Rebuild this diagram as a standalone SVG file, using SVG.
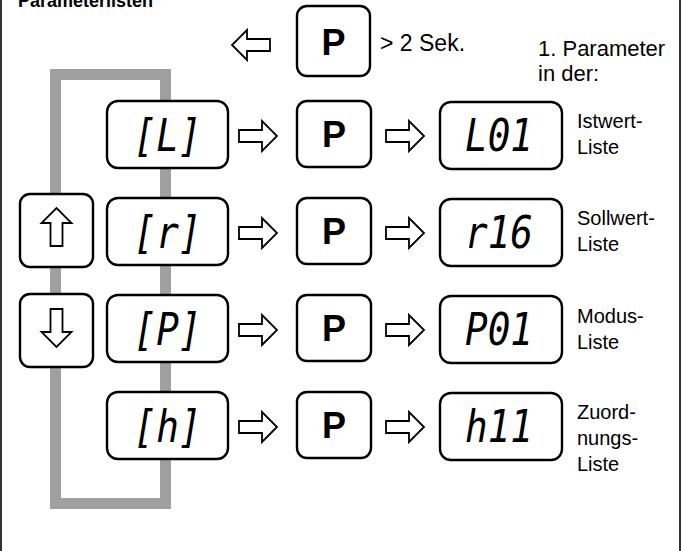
<svg xmlns="http://www.w3.org/2000/svg" width="683" height="551" viewBox="0 0 683 551">
<style>
.frame{fill:none;stroke:#000;stroke-width:1.6}
.loop{fill:none;stroke:#a0a0a0;stroke-width:11}
.box{fill:#fff;stroke:#000;stroke-width:2.4}
.arr{fill:#fff;stroke:#000;stroke-width:1.8;stroke-linejoin:miter}
.lbl{font-family:"Liberation Sans",Arial,sans-serif;font-size:20px;fill:#000}
.big{font-size:22px}
.title{font-family:"Liberation Sans",Arial,sans-serif;font-size:18px;font-weight:bold;fill:#000}
.pkey{font-family:"Liberation Sans",Arial,sans-serif;font-size:36px;font-weight:bold;fill:#000;text-anchor:middle}
.seg{font-family:"DejaVu Sans Mono","Liberation Mono",monospace;font-size:44px;font-style:oblique;fill:#000;text-anchor:middle}
</style>
<defs>
<path id="arrow" class="arr" d="M0,-6 H23 V-15 L38,0 L23,15 V6 H0 Z"/>
</defs>
<rect class="frame" x="1" y="-30" width="679" height="620"/>
<text class="title" x="18" y="7">Parameterlisten</text>
<g id="loop"><rect class="loop" x="55.5" y="74.5" width="110" height="429"/></g>
<g id="connectors">
<use href="#arrow" transform="translate(270,45) scale(-1,1)"/>
<use href="#arrow" transform="translate(239,136)"/>
<use href="#arrow" transform="translate(386,136)"/>
<use href="#arrow" transform="translate(239,233)"/>
<use href="#arrow" transform="translate(386,233)"/>
<use href="#arrow" transform="translate(239,330)"/>
<use href="#arrow" transform="translate(386,330)"/>
<use href="#arrow" transform="translate(239,427)"/>
<use href="#arrow" transform="translate(386,427)"/>
</g>
<g id="p-long">
<rect class="box" x="297" y="6" width="73" height="70" rx="10"/>
<text class="pkey" x="333.5" y="55">P</text>
<text class="lbl" x="380" y="51" style="font-size:23px">&gt; 2 Sek.</text>
</g>
<g id="note">
<text class="lbl big" x="538" y="56">1. Parameter</text>
<text class="lbl big" x="538" y="81">in der:</text>
</g>
<g id="btn-up">
<rect class="box" x="20" y="194" width="73" height="73" rx="10"/>
<use href="#arrow" transform="translate(56.5,246) rotate(-90)"/>
</g>
<g id="btn-down">
<rect class="box" x="20" y="294" width="73" height="73" rx="10"/>
<use href="#arrow" transform="translate(56.5,309) rotate(90)"/>
</g>
<g id="row1">
<g id="d-CL"><rect class="box" x="107" y="101" width="121" height="67" rx="11"/><text class="seg" x="167.5" y="151" textLength="68" lengthAdjust="spacingAndGlyphs">[L]</text></g>
<g id="p1"><rect class="box" x="297" y="101" width="74" height="66" rx="10"/><text class="pkey" x="334" y="147">P</text></g>
<g id="d-L01"><rect class="box" x="440" y="102" width="122" height="67" rx="11"/><text class="seg" x="499" y="151" textLength="68" lengthAdjust="spacingAndGlyphs">L01</text></g>
<text class="lbl" x="577" y="128">Istwert-</text><text class="lbl" x="577" y="154">Liste</text>
</g>
<g id="row2">
<g id="d-Cr"><rect class="box" x="107" y="198" width="121" height="67" rx="11"/><text class="seg" x="167.5" y="248" textLength="68" lengthAdjust="spacingAndGlyphs">[r]</text></g>
<g id="p2"><rect class="box" x="297" y="198" width="74" height="66" rx="10"/><text class="pkey" x="334" y="244">P</text></g>
<g id="d-r16"><rect class="box" x="440" y="199" width="122" height="67" rx="11"/><text class="seg" x="499" y="248" textLength="68" lengthAdjust="spacingAndGlyphs">r16</text></g>
<text class="lbl" x="577" y="225">Sollwert-</text><text class="lbl" x="577" y="251">Liste</text>
</g>
<g id="row3">
<g id="d-CP"><rect class="box" x="107" y="295" width="121" height="67" rx="11"/><text class="seg" x="167.5" y="345" textLength="68" lengthAdjust="spacingAndGlyphs">[P]</text></g>
<g id="p3"><rect class="box" x="297" y="295" width="74" height="66" rx="10"/><text class="pkey" x="334" y="341">P</text></g>
<g id="d-P01"><rect class="box" x="440" y="296" width="122" height="67" rx="11"/><text class="seg" x="499" y="345" textLength="68" lengthAdjust="spacingAndGlyphs">P01</text></g>
<text class="lbl" x="577" y="323">Modus-</text><text class="lbl" x="577" y="349">Liste</text>
</g>
<g id="row4">
<g id="d-Ch"><rect class="box" x="107" y="392" width="121" height="67" rx="11"/><text class="seg" x="167.5" y="442" textLength="68" lengthAdjust="spacingAndGlyphs">[h]</text></g>
<g id="p4"><rect class="box" x="297" y="392" width="74" height="66" rx="10"/><text class="pkey" x="334" y="438">P</text></g>
<g id="d-h11"><rect class="box" x="440" y="393" width="122" height="67" rx="11"/><text class="seg" x="499" y="442" textLength="68" lengthAdjust="spacingAndGlyphs">h11</text></g>
<text class="lbl" x="577" y="419">Zuord-</text><text class="lbl" x="577" y="445">nungs-</text><text class="lbl" x="577" y="471">Liste</text>
</g>
</svg>
